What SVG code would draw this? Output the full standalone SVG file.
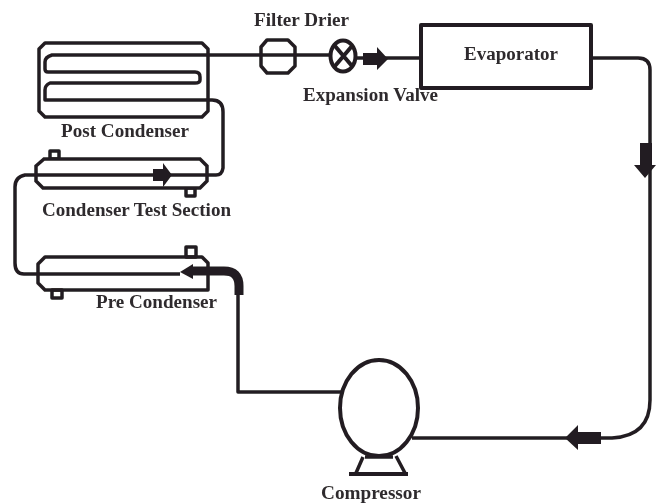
<svg xmlns="http://www.w3.org/2000/svg" width="656" height="504" viewBox="0 0 656 504">
<style>
.l{fill:none;stroke:#231f20;stroke-width:3.500;stroke-linejoin:round}
.t{stroke-width:4}
.h{stroke-width:9}
.b{fill:#fff;stroke:#231f20;stroke-width:3.500;stroke-linejoin:miter}
.a{fill:#231f20;stroke:none}
text{font-family:"Liberation Serif","Times New Roman",serif;font-weight:bold;font-size:18.500px;fill:#2f2c2d}
</style>
<defs><filter id="s" x="-5%" y="-5%" width="110%" height="110%"><feGaussianBlur stdDeviation="0.45"/></filter></defs>
<g filter="url(#s)">
<g id="post-condenser">
<path class="l" d="M45 43H202L208 49V111L202 117H45L39 111V49Z"/>
<text x="61" y="137" textLength="128" lengthAdjust="spacingAndGlyphs">Post Condenser</text>
</g>
<g id="condenser-test-section">
<path class="l" d="M50 151H59V159H50Z M186 188H195V196H186Z"/>
<path class="b" d="M44 159H200L207 166V181L200 188H43L36 181V166Z"/>
<text x="42" y="216" textLength="189" lengthAdjust="spacingAndGlyphs">Condenser Test Section</text>
</g>
<g id="pre-condenser">
<path class="l" d="M186 247H196V257H186Z M52 290H62V298H52Z"/>
<path class="l" d="M45 257H202L208 263V290H45L38 283V264Z"/>
<text x="96" y="308" textLength="121" lengthAdjust="spacingAndGlyphs">Pre Condenser</text>
</g>
<g id="filter-drier">
<path class="l" d="M267 40H288L295 47V66L288 73H267L261 66V47Z"/>
<text x="254" y="26" textLength="95" lengthAdjust="spacingAndGlyphs">Filter Drier</text>
</g>
<g id="expansion-valve">
<ellipse class="l t" cx="343" cy="56" rx="12.500" ry="15.500"/>
<path class="l t" d="M335 46L352 66M352 46L335 66"/>
<text x="303" y="101" textLength="135" lengthAdjust="spacingAndGlyphs">Expansion Valve</text>
</g>
<g id="evaporator">
<rect class="l t" x="421" y="25" width="170" height="63"/>
<text x="464" y="60" textLength="94" lengthAdjust="spacingAndGlyphs">Evaporator</text>
</g>
<g id="compressor">
<ellipse class="l t" cx="379" cy="408" rx="39" ry="48"/>
<path class="l" d="M365 457H393M363 457L356 473M396 456L405 473"/>
<path class="l t" d="M349 474H408"/>
<text x="321" y="499" textLength="100" lengthAdjust="spacingAndGlyphs">Compressor</text>
</g>
<g id="connectors">
<path class="l" d="M420 58H355M331 55H52Q45 57 45 62V69Q45 72 48 72H195Q200 72 200 77V80Q200 83 195 83H50Q45 85 45 90V100H212Q223 100 223 112V168Q222 175 216 175H25Q15 177 15 187V263Q15 274 24 274H180"/>
<path class="l" d="M238 292V392H342M412 438H612Q650 436 650 400V70Q650 58 638 58H591"/>
<path class="l h" d="M190 271H224Q239 271 239 286V295"/>
<path class="a" d="M180 272L193 264V279Z"/>
<path class="a" d="M153 169H163V163L172 175L163 187V181H153Z"/>
<path class="a" d="M363 53H377V47L388 59L377 70V65H363Z"/>
<path class="a" d="M640 143H652V165H656L645 178L634 165H640Z"/>
<path class="a" d="M565 438L578 425V432H601V444H578V450Z"/>
</g>
</g>
</svg>
